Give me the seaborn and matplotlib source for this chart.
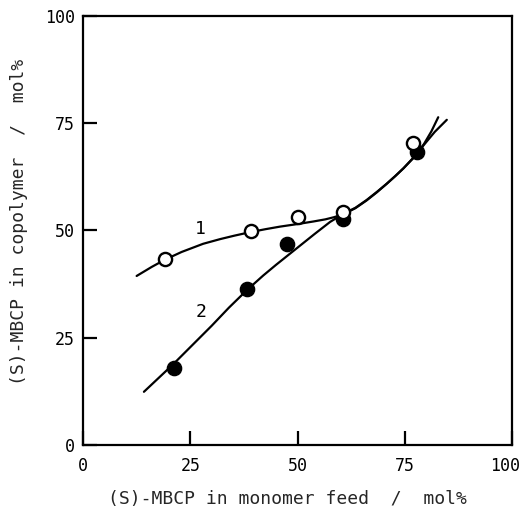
import matplotlib
matplotlib.use("Agg")
import matplotlib.pyplot as plt
from matplotlib.transforms import ScaledTranslation
import seaborn as sns
import pandas as pd

# Data
open_x = [19.1, 39.1, 50.0, 60.5, 77.0]
open_y = [43.3, 49.9, 53.2, 54.3, 70.3]
filled_x = [21.1, 38.3, 47.6, 60.7, 77.8]
filled_y = [17.9, 36.4, 46.9, 52.6, 68.4]

curve1_x = [12.5, 16.0, 19.1, 23.0, 28.0, 32.0, 35.3, 38.9, 42.5, 45.9, 50.0, 53.7, 56.5,
            58.5, 60.7, 63.5, 66.1, 68.5, 70.8, 72.8, 74.7, 77.4, 79.5, 81.2, 82.8]
curve1_y = [39.4, 41.5, 43.2, 45.0, 46.9, 48.0, 48.8, 49.6, 50.3, 50.9, 51.5, 52.1, 52.6,
            53.1, 53.8, 55.2, 57.0, 58.9, 60.9, 62.7, 64.5, 67.4, 70.2, 73.1, 76.4]
curve2_x = [14.2, 21.0, 30.0, 34.0, 38.2, 42.0, 45.0, 49.0, 54.0, 57.6, 60.7,
            63.5, 66.1, 68.5, 70.8, 72.8, 74.7, 77.4, 79.5, 82.0, 84.8]
curve2_y = [12.4, 18.8, 27.8, 32.0, 36.1, 39.5, 42.0, 45.2, 49.2, 52.0, 53.9,
            55.3, 57.1, 59.0, 60.9, 62.7, 64.5, 67.3, 70.0, 73.0, 75.8]

x_ticks = [0, 25, 50, 75, 100]
y_ticks = [0, 25, 50, 75, 100]
curve_labels = ["1", "2"]
curve_label_pos = [(27.3, 50.3), (27.5, 31.0)]

sns.set_style("ticks")
plt.rcParams["font.family"] = ["DejaVu Sans Mono", "DejaVu Sans"]

fig = plt.figure(figsize=(5.23, 5.16), dpi=100)
ax = fig.add_axes([0.1587, 0.1376, 0.8203, 0.8314])

c1 = pd.DataFrame({"x": curve1_x, "y": curve1_y})
c2 = pd.DataFrame({"x": curve2_x, "y": curve2_y})
sns.lineplot(data=c1, x="x", y="y", sort=False, color="black", lw=1.6, ax=ax, zorder=2)
sns.lineplot(data=c2, x="x", y="y", sort=False, color="black", lw=1.6, ax=ax, zorder=2)

sns.scatterplot(x=filled_x, y=filled_y, s=105, color="black", edgecolor="black",
                linewidth=1.0, ax=ax, zorder=3)
sns.scatterplot(x=open_x, y=open_y, s=90, facecolor="white", edgecolor="black",
                linewidth=1.7, ax=ax, zorder=4)

for lab, (lx, ly) in zip(curve_labels, curve_label_pos):
    ax.text(lx, ly, lab, fontsize=13, ha="center", va="center", color="black")

ax.set_xlim(0, 100)
ax.set_ylim(0, 100)
ax.set_xticks(x_ticks)
ax.set_yticks(y_ticks)
ax.set_xticklabels([str(t) for t in x_ticks])
ax.set_yticklabels([str(t) for t in y_ticks])
ax.tick_params(axis="both", direction="in", length=10, width=1.6, labelsize=12,
               colors="black", top=False, right=False)
ax.tick_params(axis="x", pad=9)
ax.tick_params(axis="y", pad=6)
for sp in ax.spines.values():
    sp.set_visible(True)
    sp.set_linewidth(1.6)
    sp.set_color("black")

# shift the last x tick label a little to the left so it stays inside the figure
last = ax.get_xticklabels()[-1]
last.set_transform(last.get_transform() + ScaledTranslation(-5 / 72, 0, fig.dpi_scale_trans))

ax.set_xlabel("(S)-MBCP in monomer feed  /  mol%", fontsize=13)
ax.set_ylabel("(S)-MBCP in copolymer  /  mol%", fontsize=13)
ax.xaxis.set_label_coords(0.477, -0.105)
ax.yaxis.set_label_coords(-0.128, 0.521)

fig.savefig("out.png", dpi=100, facecolor="white")
